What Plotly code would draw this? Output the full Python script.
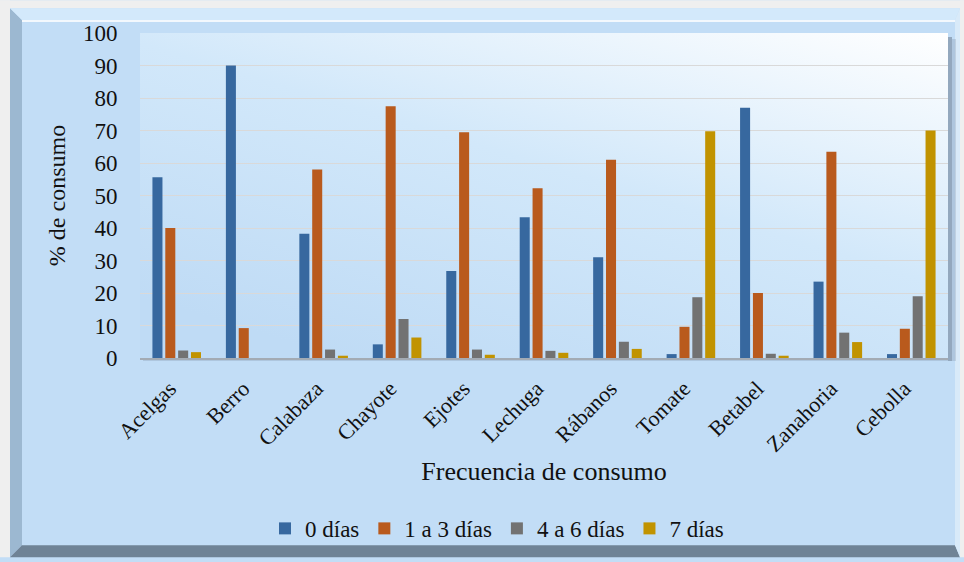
import base64
import plotly.graph_objects as go

# Porcentaje de consumo por hortaliza y frecuencia semanal
hortalizas = ["Acelgas", "Berro", "Calabaza", "Chayote", "Ejotes", "Lechuga",
              "Rábanos", "Tomate", "Betabel", "Zanahoria", "Cebolla"]
cero_dias = [55.6, 90.0, 38.2, 4.2, 26.8, 43.3, 31.0, 1.2, 77.0, 23.5, 1.2]
uno_a_tres = [40.0, 9.2, 58.0, 77.5, 69.5, 52.2, 61.0, 9.6, 20.0, 63.5, 9.0]
cuatro_a_seis = [2.3, 0.0, 2.6, 12.0, 2.6, 2.2, 5.0, 18.7, 1.3, 7.8, 19.0]
siete_dias = [1.8, 0.0, 0.7, 6.3, 1.0, 1.6, 2.8, 69.8, 0.7, 4.9, 70.0]

series = [
    ("0 días", cero_dias, "#37689f"),
    ("1 a 3 días", uno_a_tres, "#b95a1d"),
    ("4 a 6 días", cuatro_a_seis, "#727272"),
    ("7 días", siete_dias, "#c19300"),
]

y_ticks = list(range(0, 101, 10))

W, H = 964, 562
L, R, T, B = 140, 16, 33, 201
PW, PH = W - L - R, H - T - B
FONT = "Liberation Serif"


def fx(px):
    return (px - L) / PW


def fy(py):
    return (H - B - py) / PH


def path(points):
    return "M " + " L ".join(f"{fx(x):.5f},{fy(y):.5f}" for x, y in points) + " Z"


fig = go.Figure()
for name, values, color in series:
    fig.add_trace(go.Bar(
        name=name, x=hortalizas, y=values,
        marker=dict(color=color, line=dict(width=0)),
    ))

# diagonal light-blue to white fill of the plotting area
svg = (
    '<svg xmlns="http://www.w3.org/2000/svg" width="808" height="328" preserveAspectRatio="none">'
    '<defs><linearGradient id="g" x1="0.25" y1="1" x2="1" y2="0">'
    '<stop offset="0" stop-color="#bfdbf5"/><stop offset="0.5" stop-color="#d2e8fa"/>'
    '<stop offset="1" stop-color="#ffffff"/></linearGradient></defs>'
    '<rect width="808" height="328" fill="url(#g)"/></svg>'
)
bg_src = "data:image/svg+xml;base64," + base64.b64encode(svg.encode()).decode()

shapes = [
    # light surround outside the beveled frame
    dict(type="rect", x0=fx(0), x1=fx(W), y0=fy(0), y1=fy(8), fillcolor="#efefef", line_width=0),
    dict(type="rect", x0=fx(0), x1=fx(10), y0=fy(0), y1=fy(H), fillcolor="#efefef", line_width=0),
    dict(type="rect", x0=fx(960), x1=fx(W), y0=fy(0), y1=fy(H), fillcolor="#efefef", line_width=0),
    # bevel edges of the frame
    dict(type="path", path=path([(10, 8), (22, 20), (22, 550), (10, 562)]), fillcolor="#9cb8d1", line_width=0),
    dict(type="path", path=path([(10, 8), (960, 8), (955, 20), (22, 20)]), fillcolor="#d3e9fb", line_width=0),
    dict(type="path", path=path([(10, 562), (960, 562), (955, 550), (22, 550)]), fillcolor="#6f8396", line_width=0),
    dict(type="path", path=path([(960, 8), (960, 562), (955, 550), (955, 20)]), fillcolor="#d8eaf9", line_width=0),
    dict(type="line", x0=fx(22), x1=fx(955), y0=fy(21), y1=fy(21), line=dict(color="rgba(255,255,255,0.8)", width=2)),
    # drop shadow of the plotting area
    dict(type="rect", x0=fx(948), x1=fx(952), y0=fy(37), y1=fy(364), fillcolor="rgba(60,70,85,0.35)", line_width=0),
    dict(type="rect", x0=fx(952), x1=fx(956), y0=fy(39), y1=fy(364), fillcolor="rgba(60,70,85,0.15)", line_width=0),
    dict(type="rect", x0=fx(143), x1=fx(948), y0=fy(361), y1=fy(364), fillcolor="rgba(60,70,85,0.15)", line_width=0),
]
for s in shapes:
    s.update(xref="paper", yref="paper", layer="below")

fig.update_layout(
    width=W, height=H,
    margin=dict(l=L, r=R, t=T, b=B),
    paper_bgcolor="#c2ddf6",
    plot_bgcolor="rgba(0,0,0,0)",
    font=dict(family=FONT, color="#111111"),
    barmode="group", bargap=0.3, bargroupgap=0.22,
    showlegend=True,
    legend=dict(orientation="h", x=fx(497), xanchor="center", y=fy(533), yanchor="middle",
                font=dict(size=23, family=FONT), bgcolor="rgba(0,0,0,0)", itemwidth=30,
                traceorder="normal"),
    images=[dict(source=bg_src, xref="paper", yref="paper", x=0, y=1, sizex=1, sizey=1,
                 sizing="stretch", xanchor="left", yanchor="top", layer="below")],
    shapes=shapes,
)
fig.update_xaxes(
    tickangle=-45, tickfont=dict(size=22, family=FONT),
    showline=True, linecolor="#a3abb4", linewidth=2, showgrid=False,
    ticks="outside", ticklen=2, tickcolor="rgba(0,0,0,0)",
    ticklabelshift=-7, ticklabelstandoff=5,
    title=dict(text="Frecuencia de consumo", font=dict(size=26, family=FONT), standoff=6),
)
fig.update_yaxes(
    range=[0, 100], tickvals=y_ticks, ticktext=[str(v) for v in y_ticks],
    tickfont=dict(size=23, family=FONT),
    showgrid=True, gridcolor="#d9d9d9", gridwidth=1, zeroline=False, showline=False,
    ticks="outside", ticklen=17, tickcolor="rgba(0,0,0,0)",
    title=dict(text="% de consumo", font=dict(size=24, family=FONT), standoff=10),
)

fig.write_html("out.html")
